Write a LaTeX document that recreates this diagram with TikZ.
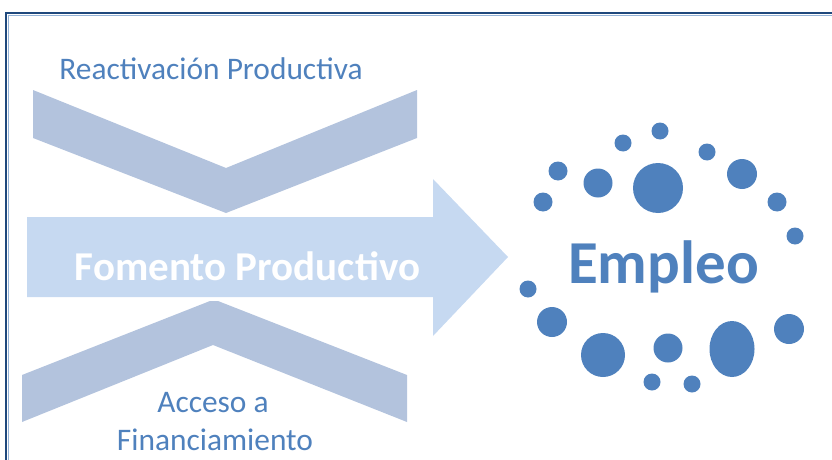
\documentclass[tikz,border=0pt]{standalone}
\usepackage{fontspec}
\setmainfont{Carlito}
\definecolor{frameDark}{RGB}{31,73,125}
\definecolor{frameLight}{RGB}{149,179,215}
\definecolor{chevron}{RGB}{179,195,221}
\definecolor{arrowFill}{RGB}{198,217,241}
\definecolor{accent}{RGB}{79,129,189}
\begin{document}
\begin{tikzpicture}[x=1pt,y=-1pt,
  chev/.style={fill=chevron,draw=none},
  bigarrow/.style={fill=arrowFill,draw=none},
  dot/.style={fill=accent,draw=none},
  lbl/.style={text=accent,font=\fontsize{31.4}{36}\selectfont,anchor=base,inner sep=0pt},
]
\useasboundingbox (0,0) rectangle (832,460);
% frame
\draw[frameLight,line width=1pt] (8,460) -- (8,15.5) -- (832,15.5);
\draw[frameDark,line width=2pt] (6,460) -- (6,13.5) -- (832,13.5);
% main arrow
\fill[bigarrow] (27,217) -- (433,217) -- (433,179) -- (508,257) -- (433,336) -- (433,297) -- (27,297) -- cycle;
% top chevron
\fill[chev] (33,90) -- (226,168) -- (417,90) -- (417,138) -- (226,213) -- (33,138) -- cycle;
% bottom chevron
\fill[chev] (22,375) -- (210,301) -- (218,301) -- (407,375) -- (407,422) -- (213,345) -- (22,422) -- cycle;
% texts
\node[lbl] (react) at (211,79) {Reactivación Productiva};
\node[text=white,font=\fontsize{41}{46}\selectfont\bfseries,anchor=base,inner sep=0pt] (fomento) at (247.5,280) {Fomento Productivo};
\node[lbl] (acceso) at (213,412) {Acceso a};
\node[lbl] (finan) at (215,450) {Financiamiento};
\node[text=accent,font=\fontsize{61}{70}\selectfont\bfseries,anchor=base,inner sep=0pt] (empleo) at (663.5,283) {Empleo};
% dots
\fill[dot] (660,131) circle (8.5);
\fill[dot] (623,143) circle (8.5);
\fill[dot] (707,152) circle (8.5);
\fill[dot] (558,171) circle (9.5);
\fill[dot] (598,183) circle (14.5);
\fill[dot] (658,188) circle (25);
\fill[dot] (742,174) circle (15);
\fill[dot] (543,202) circle (9.5);
\fill[dot] (777,202) circle (9.5);
\fill[dot] (795,236) circle (8.5);
\fill[dot] (528,289) circle (8.5);
\fill[dot] (552,322) circle (15);
\fill[dot] (603,355) circle (22);
\fill[dot] (668,348) circle (14.5);
\fill[dot] (732,349) ellipse (22.5 and 28);
\fill[dot] (789,329) circle (15);
\fill[dot] (652,382) circle (8.5);
\fill[dot] (692,384) circle (8.5);
\end{tikzpicture}
\end{document}
